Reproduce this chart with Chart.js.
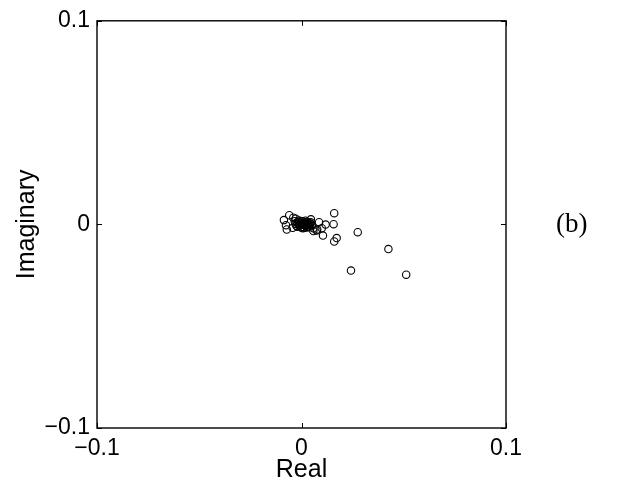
<!DOCTYPE html>
<html>
<head>
<meta charset="utf-8">
<script src="https://cdn.jsdelivr.net/npm/chart.js@4/dist/chart.umd.min.js"></script>
<style>
  html, body { margin: 0; padding: 0; background: #fff; }
  #wrap { width: 625px; height: 497px; }
</style>
</head>
<body>
<div id="wrap"><canvas id="myChart" width="625" height="497"></canvas></div>
<script>
// eigenvalues (real part, imaginary part)
const realVals = [
    0.0160, 0.0157, 0.0275, 0.0172, 0.0160, 0.0425, 0.0242, 0.0512,
    0.0118, 0.0105, 0.0086, 0.0099, 0.0074, 0.0058, 0.0046,
    -0.0060, -0.0086, -0.0076, -0.0072, -0.0040, -0.0028, -0.0043, -0.0023,
    0.0058, 0.0077,
    -0.0015, -0.0010, -0.0005, 0.0000, 0.0003, 0.0008, 0.0012, 0.0017,
    0.0020, 0.0025, 0.0030, 0.0035, -0.0002, 0.0005, 0.0014, 0.0028,
    -0.0020, 0.0040, 0.0010, 0.0002, 0.0022, -0.0008, 0.0032,
    -0.0030, -0.0025, 0.0045, 0.0050, 0.0038, -0.0012, 0.0007, 0.0019,
    0.0027, -0.0033, 0.0043
];
const imagVals = [
    0.0055, 0.0001, -0.0038, -0.0067, -0.0084, -0.0121, -0.0227, -0.0247,
    -0.0001, -0.0055, 0.0011, -0.0019, -0.0030, -0.0033, 0.0025,
    0.0045, 0.0021, -0.0004, -0.0025, 0.0033, 0.0028, -0.0017, 0.0009,
    -0.0019, -0.0025,
    0.0012, -0.0005, 0.0008, 0.0000, -0.0012, 0.0005, -0.0003, 0.0010,
    -0.0008, 0.0002, -0.0010, 0.0006, -0.0015, 0.0015, -0.0016, 0.0013,
    -0.0012, -0.0004, 0.0001, 0.0003, 0.0004, 0.0002, 0.0000,
    0.0003, -0.0007, 0.0010, -0.0006, -0.0013, 0.0019, -0.0019, 0.0018,
    -0.0015, 0.0016, 0.0004
];
const xTicks = [-0.1, 0, 0.1];
const yTicks = [-0.1, 0, 0.1];
const xTitle = 'Real';
const yTitle = 'Imaginary';
const panelLabel = '(b)';

const points = realVals.map((r, i) => ({ x: r, y: imagVals[i] }));

function fmt(v) {
    if (Math.abs(v) < 1e-12) return '0';
    return (v < 0 ? '\u2212' : '') + String(Math.abs(v));
}

// box around the axes and inward tick marks, matlab style
const boxPlugin = {
    id: 'box',
    afterDraw(chart) {
        const { ctx, chartArea: a, scales } = chart;
        ctx.save();
        ctx.strokeStyle = '#000';
        ctx.lineWidth = 1.4;
        ctx.strokeRect(a.left, a.top, a.right - a.left, a.bottom - a.top);
        ctx.lineWidth = 1;
        const len = 5;
        ctx.beginPath();
        scales.x.ticks.forEach(t => {
            const px = Math.round(scales.x.getPixelForValue(t.value)) + 0.5;
            ctx.moveTo(px, a.bottom); ctx.lineTo(px, a.bottom - len);
            ctx.moveTo(px, a.top); ctx.lineTo(px, a.top + len);
        });
        scales.y.ticks.forEach(t => {
            const py = Math.round(scales.y.getPixelForValue(t.value)) + 0.5;
            ctx.moveTo(a.left, py); ctx.lineTo(a.left + len, py);
            ctx.moveTo(a.right, py); ctx.lineTo(a.right - len, py);
        });
        ctx.stroke();
        // panel label to the right
        ctx.fillStyle = '#000';
        ctx.font = '27px "Liberation Serif", "DejaVu Serif", serif';
        ctx.textAlign = 'left';
        ctx.textBaseline = 'middle';
        ctx.fillText(panelLabel, a.right + 50, scales.y.getPixelForValue(0) + 1);
        ctx.restore();
    }
};

const ctx = document.getElementById('myChart').getContext('2d');
const tickFont = { family: '"Liberation Sans", Arial, sans-serif', size: 23 };
const titleFont = { family: '"Liberation Sans", Arial, sans-serif', size: 25 };

new Chart(ctx, {
    type: 'scatter',
    data: {
        datasets: [{
            data: points,
            pointStyle: 'circle',
            pointRadius: 3.7,
            pointBorderWidth: 1.1,
            pointBorderColor: '#000',
            pointBackgroundColor: 'rgba(0,0,0,0)'
        }]
    },
    options: {
        responsive: false,
        animation: false,
        layout: { padding: { left: 0, top: 19, right: 119, bottom: 0 } },
        plugins: {
            legend: { display: false },
            tooltip: { enabled: false }
        },
        scales: {
            x: {
                type: 'linear',
                min: -0.1,
                max: 0.1,
                afterBuildTicks: s => { s.ticks = xTicks.map(v => ({ value: v })); },
                afterFit: s => { s.height = 69; },
                grid: { display: false, drawTicks: false },
                border: { display: false },
                ticks: { color: '#000', font: tickFont, padding: 7, maxRotation: 0, callback: v => fmt(v) },
                title: { display: true, text: xTitle, color: '#000', font: titleFont, padding: { top: 0, bottom: 12 } }
            },
            y: {
                type: 'linear',
                min: -0.1,
                max: 0.1,
                afterBuildTicks: s => { s.ticks = yTicks.map(v => ({ value: v })); },
                afterFit: s => { s.width = 97; },
                grid: { display: false, drawTicks: false },
                border: { display: false },
                ticks: { color: '#000', font: tickFont, padding: 7, callback: v => fmt(v) },
                title: { display: true, text: yTitle, color: '#000', font: titleFont, padding: { top: 12, bottom: 0 } }
            }
        }
    },
    plugins: [boxPlugin]
});
</script>
</body>
</html>
